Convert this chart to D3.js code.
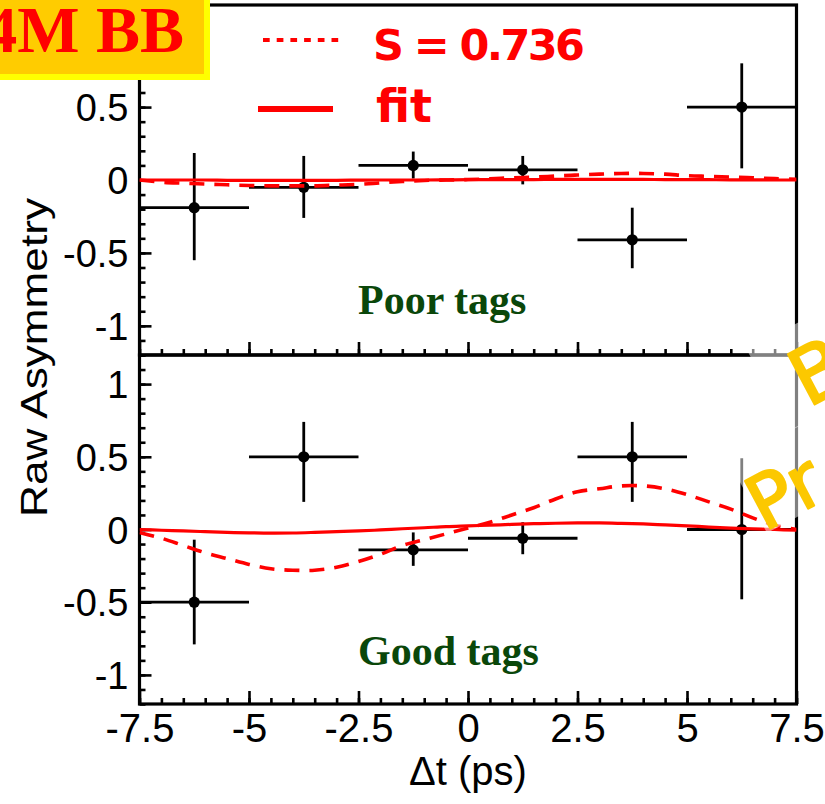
<!DOCTYPE html>
<html>
<head>
<meta charset="utf-8">
<script src="https://cdn.jsdelivr.net/npm/d3@7/dist/d3.min.js"></script>
<style>
  html, body { margin: 0; padding: 0; background: #fff; }
  svg { display: block; }
</style>
</head>
<body>
<script>
// Δt bin centres and half widths (ps)
const binCenters = [-6.25, -3.75, -1.25, 1.25, 3.75, 6.25];
const binHalfWidth = 1.25;

// Poor tags: raw asymmetry with asymmetric errors
const poorValues = [-0.19, -0.05, 0.10, 0.07, -0.41, 0.50];
const poorErrHi  = [0.375, 0.215, 0.095, 0.095, 0.22, 0.30];
const poorErrLo  = [0.36, 0.21, 0.09, 0.10, 0.195, 0.42];

// Good tags
const goodValues = [-0.50, 0.50, -0.14, -0.06, 0.50, 0.00];
const goodErrHi  = [0.43, 0.24, 0.12, 0.11, 0.24, 0.49];
const goodErrLo  = [0.29, 0.31, 0.11, 0.11, 0.31, 0.48];

// Curves sampled along Δt
const curveDt = [-7.5, -7, -6.5, -6, -5.5, -5, -4.5, -4, -3.5, -3, -2.5, -2, -1.5, -1, -0.5,
                 0, 0.5, 1, 1.5, 2, 2.5, 3, 3.5, 4, 4.5, 5, 5.5, 6, 6.5, 7, 7.5];
const poorFit = [0.0, 0.0, 0.0, 0.0, -0.002, -0.003, -0.003, -0.003, -0.002, -0.002, -0.001, 0.0, 0.0, 0.0, 0.001,
                 0.002, 0.002, 0.003, 0.003, 0.004, 0.004, 0.004, 0.004, 0.004, 0.003, 0.003, 0.002, 0.001, 0.001, 0.0, 0.0];
const poorS    = [0.0, -0.015, -0.022, -0.028, -0.033, -0.038, -0.04, -0.04, -0.04, -0.035, -0.03, -0.02, -0.01, -0.003, 0.0,
                  0.003, 0.008, 0.015, 0.02, 0.027, 0.034, 0.04, 0.045, 0.045, 0.04, 0.03, 0.025, 0.02, 0.015, 0.01, 0.005];
const goodFit = [0.0, -0.005, -0.01, -0.015, -0.02, -0.023, -0.025, -0.024, -0.02, -0.015, -0.01, -0.003, 0.005, 0.012, 0.02,
                 0.025, 0.03, 0.035, 0.04, 0.043, 0.045, 0.045, 0.042, 0.038, 0.032, 0.025, 0.017, 0.01, 0.004, 0.0, -0.005];
const goodS    = [-0.02, -0.06, -0.11, -0.16, -0.20, -0.24, -0.27, -0.28, -0.28, -0.26, -0.22, -0.17, -0.11, -0.07, -0.03,
                  0.01, 0.05, 0.10, 0.15, 0.21, 0.26, 0.28, 0.30, 0.30, 0.28, 0.24, 0.19, 0.14, 0.08, 0.03, 0.0];

// Tick labels
const xTickLabels = [-7.5, -5, -2.5, 0, 2.5, 5, 7.5];
const xMinorTicks = d3.range(-7.5, 7.51, 0.5);
const yMajorTicks = [-1, -0.5, 0, 0.5, 1];
const yMinorTicks = d3.range(-12, 12.01, 1).map(v => v / 10);
const yTickLabelsTop = [-1, -0.5, 0, 0.5];
const yTickLabelsBottom = [-1, -0.5, 0, 0.5, 1];

const W = 825, H = 804;
const svg = d3.select("body").append("svg").attr("width", W).attr("height", H);
svg.append("rect").attr("width", W).attr("height", H).attr("fill", "#fff");

const x = d3.scaleLinear().domain([-7.5, 7.5]).range([139.5, 796.5]);
const panels = [
  { name: "Poor tags", y0: 5, y1: 355, values: poorValues, hi: poorErrHi, lo: poorErrLo,
    fit: poorFit, sCurve: poorS, labels: yTickLabelsTop, labelY: 314 },
  { name: "Good tags", y0: 355, y1: 704, values: goodValues, hi: goodErrHi, lo: goodErrLo,
    fit: goodFit, sCurve: goodS, labels: yTickLabelsBottom, labelY: 665 }
];

const AXIS_FONT = "'Liberation Sans', Arial, Helvetica, sans-serif";
const RED = "#ff0000";
const plain = v => String(v);   // hyphen-minus, as in the printed axis

panels.forEach((p, i) => {
  const y = d3.scaleLinear().domain([-1.2, 1.2]).range([p.y1, p.y0]);
  const g = svg.append("g");
  const clipId = "clip" + i;
  svg.append("clipPath").attr("id", clipId).append("rect")
    .attr("x", x.range()[0]).attr("y", p.y0)
    .attr("width", x.range()[1] - x.range()[0]).attr("height", p.y1 - p.y0);

  // x ticks (pointing up into the panel)
  const xMinor = g.append("g").attr("transform", `translate(0,${p.y1})`)
    .call(d3.axisBottom(x).tickValues(xMinorTicks).tickSize(-6).tickSizeOuter(0).tickFormat(""));
  const xMajor = g.append("g").attr("transform", `translate(0,${p.y1})`)
    .call(d3.axisBottom(x).tickValues(xTickLabels).tickSize(-13).tickSizeOuter(0)
      .tickPadding(10).tickFormat(i === 1 ? plain : () => ""));
  // y ticks (pointing right into the panel)
  const yMinor = g.append("g").attr("transform", `translate(${x.range()[0]},0)`)
    .call(d3.axisLeft(y).tickValues(yMinorTicks).tickSize(-6).tickSizeOuter(0).tickFormat(""));
  const yMajor = g.append("g").attr("transform", `translate(${x.range()[0]},0)`)
    .call(d3.axisLeft(y).tickValues(yMajorTicks).tickSize(-12).tickSizeOuter(0)
      .tickPadding(11).tickFormat(v => p.labels.includes(v) ? plain(v) : ""));

  [xMinor, xMajor, yMinor, yMajor].forEach(a => {
    a.select(".domain").remove();
    a.selectAll(".tick line").attr("stroke", "#000").attr("stroke-width", 2.6);
    a.selectAll("text").attr("fill", "#000").attr("font-family", AXIS_FONT);
  });
  xMajor.selectAll("text").attr("font-size", 40);
  yMajor.selectAll("text").attr("font-size", 38).attr("dy", "0.36em");

  // frame
  g.append("rect")
    .attr("x", x.range()[0]).attr("y", p.y0)
    .attr("width", x.range()[1] - x.range()[0]).attr("height", p.y1 - p.y0)
    .attr("fill", "none").attr("stroke", "#000").attr("stroke-width", 3.2);

  // panel label
  g.append("text").attr("x", 358).attr("y", p.labelY)
    .attr("font-family", "'Liberation Serif', 'Times New Roman', serif")
    .attr("font-weight", "bold").attr("font-size", 42).attr("fill", "#0a470a")
    .text(p.name);

  // data points with error bars
  const pts = g.append("g");
  binCenters.forEach((c, k) => {
    const v = p.values[k];
    pts.append("line")
      .attr("x1", x(c - binHalfWidth)).attr("x2", x(c + binHalfWidth))
      .attr("y1", y(v)).attr("y2", y(v))
      .attr("stroke", "#000").attr("stroke-width", 2.8);
    pts.append("line")
      .attr("x1", x(c)).attr("x2", x(c))
      .attr("y1", y(v + p.hi[k])).attr("y2", y(v - p.lo[k]))
      .attr("stroke", "#000").attr("stroke-width", 2.8);
    pts.append("circle").attr("cx", x(c)).attr("cy", y(v)).attr("r", 5.6).attr("fill", "#000");
  });

  // curves
  const line = d3.line().x(d => x(d[0])).y(d => y(d[1])).curve(d3.curveCatmullRom);
  const cg = g.append("g").attr("clip-path", `url(#${clipId})`);
  cg.append("path").datum(curveDt.map((t, k) => [t, p.sCurve[k]]))
    .attr("d", line).attr("fill", "none").attr("stroke", RED)
    .attr("stroke-width", 3.6).attr("stroke-dasharray", "15,10");
  cg.append("path").datum(curveDt.map((t, k) => [t, p.fit[k]]))
    .attr("d", line).attr("fill", "none").attr("stroke", RED).attr("stroke-width", 3.2);
});

// axis titles
svg.append("text").attr("x", x(0)).attr("y", 785)
  .attr("text-anchor", "middle").attr("font-family", AXIS_FONT).attr("font-size", 40)
  .text("Δt (ps)");
svg.append("text")
  .attr("transform", "translate(47,357.5) rotate(-90)")
  .attr("text-anchor", "middle").attr("font-family", AXIS_FONT).attr("font-size", 37)
  .attr("textLength", 319).attr("lengthAdjust", "spacingAndGlyphs")
  .text("Raw Asymmetry");

// translucent watermark boxes with the stamp lettering
const STAMP_FONT = "'DejaVu Sans', sans-serif";
const STAMP = "#fcc800";
const wm = svg.append("g");
wm.append("rect").attr("transform", "translate(767,533) rotate(-28)")
  .attr("x", 0).attr("y", -80).attr("width", 220).attr("height", 80)
  .attr("fill", "#fff").attr("opacity", 0.5);
wm.append("rect").attr("transform", "translate(790,431) rotate(-28)")
  .attr("x", 0).attr("y", -92).attr("width", 220).attr("height", 92)
  .attr("fill", "#fff").attr("opacity", 0.5);
wm.append("text").attr("transform", "translate(808,408) rotate(-28)")
  .attr("font-family", STAMP_FONT).attr("font-size", 78)
  .attr("fill", STAMP).attr("stroke", STAMP).attr("stroke-width", 2.2)
  .attr("stroke-linejoin", "round").text("B");
wm.append("text").attr("transform", "translate(764,532) rotate(-28)")
  .attr("font-family", STAMP_FONT).attr("font-size", 74)
  .attr("fill", STAMP).attr("stroke", STAMP).attr("stroke-width", 2.2)
  .attr("stroke-linejoin", "round").text("Pr");

// legend
const lg = svg.append("g");
lg.append("line").attr("x1", 263).attr("x2", 339).attr("y1", 40).attr("y2", 40)
  .attr("stroke", RED).attr("stroke-width", 4).attr("stroke-dasharray", "6.7,7");
lg.append("line").attr("x1", 258).attr("x2", 333).attr("y1", 109).attr("y2", 109)
  .attr("stroke", RED).attr("stroke-width", 6);
lg.append("text").attr("x", 373).attr("y", 60)
  .attr("font-family", STAMP_FONT).attr("font-weight", "bold").attr("font-size", 43)
  .attr("textLength", 212).attr("lengthAdjust", "spacing")
  .attr("fill", RED).text("S = 0.736");
lg.append("text").attr("x", 376).attr("y", 122)
  .attr("font-family", STAMP_FONT).attr("font-weight", "bold").attr("font-size", 46)
  .attr("fill", RED).text("fit");

// sample-size badge
const badge = svg.append("g");
badge.append("rect").attr("x", -10).attr("y", -10).attr("width", 217).attr("height", 87)
  .attr("fill", "#ffcc00").attr("stroke", "#ffff00").attr("stroke-width", 6);
badge.append("text").attr("x", 184).attr("y", 52).attr("text-anchor", "end")
  .attr("font-family", "'Liberation Serif', 'Times New Roman', serif")
  .attr("font-weight", "bold").attr("font-size", 66).attr("fill", "#ff0000")
  .text("4M BB");
</script>
</body>
</html>
